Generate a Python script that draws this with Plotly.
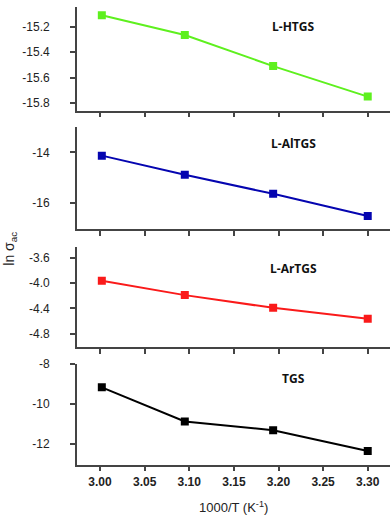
import plotly.graph_objects as go

# 1000/T values shared by all four samples
inv_t = [3.002, 3.095, 3.194, 3.300]

ln_sigma_lhtgs = [-15.11, -15.265, -15.51, -15.75]
ln_sigma_laltgs = [-14.13, -14.89, -15.64, -16.52]
ln_sigma_lartgs = [-3.965, -4.19, -4.39, -4.56]
ln_sigma_tgs = [-9.16, -10.86, -11.30, -12.34]

names = ['L-HTGS', 'L-AlTGS', 'L-ArTGS', 'TGS']
colors = ['#5ef01e', '#0505b0', '#fa1a1a', '#000000']

series = [ln_sigma_lhtgs, ln_sigma_laltgs, ln_sigma_lartgs, ln_sigma_tgs]

x_ticks = [3.00, 3.05, 3.10, 3.15, 3.20, 3.25, 3.30]
y_ticks = [[-15.8, -15.6, -15.4, -15.2], [-16, -14], [-4.8, -4.4, -4.0, -3.6], [-12, -10, -8]]
y_labels = [['-15.8', '-15.6', '-15.4', '-15.2'], ['-16', '-14'],
            ['-4.8', '-4.4', '-4.0', '-3.6'], ['-12', '-10', '-8']]

# panel layout (paper coords)
y_domains = [[0.7965, 1.0], [0.564, 0.7636], [0.3314, 0.529], [0.1008, 0.2984]]
y_ranges = [[-15.86, -15.045], [-17.03, -13.01], [-5.01, -3.43], [-13.02, -8.0]]
label_y = [20, 138, 265, 377]

W, H = 392, 516
fig = go.Figure()
axis_col = '#444444'

for i in range(4):
    n = '' if i == 0 else str(i + 1)
    fig.add_trace(go.Scatter(
        x=inv_t, y=series[i], mode='lines+markers', name=names[i],
        line=dict(color=colors[i], width=2),
        marker=dict(symbol='square', size=8, color=colors[i]),
        xaxis='x' + n, yaxis='y' + n, showlegend=False))

    fig.update_layout(**{
        'xaxis' + n: dict(
            domain=[0.196, 0.995], range=[2.974, 3.325], anchor='y' + n,
            tickvals=x_ticks, ticktext=['%.2f' % v for v in x_ticks],
            showticklabels=(i == 3), ticks='outside', ticklen=5, tickwidth=1.5,
            tickcolor=axis_col, showline=True, linecolor=axis_col, linewidth=1.5,
            showgrid=False, zeroline=False,
            tickfont=dict(family='Liberation Sans', size=12, color='#222222', weight='bold')),
        'yaxis' + n: dict(
            domain=y_domains[i], range=y_ranges[i], anchor='x' + n,
            tickvals=y_ticks[i], ticktext=y_labels[i],
            ticks='outside', ticklen=5, tickwidth=1.5, tickcolor=axis_col,
            showline=True, linecolor=axis_col, linewidth=1.5,
            showgrid=False, zeroline=False, ticklabelstandoff=18,
            tickfont=dict(family='Liberation Sans', size=12, color='#222222')),
    })

    fig.add_annotation(x=293 / W, y=(H - label_y[i]) / H, xref='paper', yref='paper',
                       xanchor='center', yanchor='middle',
                       text='<b>' + names[i] + '</b>', showarrow=False,
                       font=dict(family='Open Sans', size=12, color='#111111'))

fig.add_annotation(x=233.5 / W, y=(H - 507) / H, xref='paper', yref='paper',
                   xanchor='center', yanchor='middle',
                   text='1000/T (K<sup>-1</sup>)', showarrow=False,
                   font=dict(family='Liberation Sans', size=13, color='#222222'))
fig.add_annotation(x=10 / W, y=(H - 245) / H, xref='paper', yref='paper',
                   xanchor='center', yanchor='middle',
                   text='ln σ<sub>ac</sub>', showarrow=False, textangle=-90,
                   font=dict(family='Liberation Sans', size=14, color='#222222'))

fig.update_layout(width=W, height=H, margin=dict(l=0, r=0, t=0, b=0),
                  plot_bgcolor='white', paper_bgcolor='white')

fig.write_html("out.html", config={'displayModeBar': False},
               post_script="document.body.style.margin='0';")
